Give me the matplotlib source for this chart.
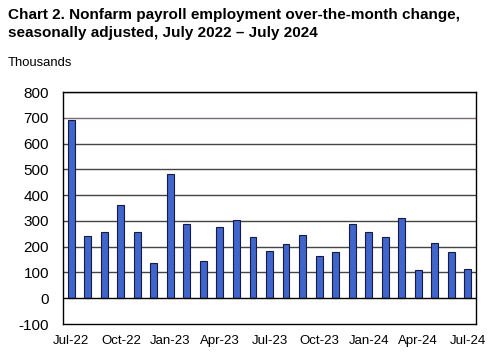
import numpy as np
import matplotlib
matplotlib.use('Agg')
import matplotlib.pyplot as plt

plt.rcParams['font.family'] = ['Liberation Sans', 'DejaVu Sans']

months = ['Jul-22', 'Aug-22', 'Sep-22', 'Oct-22', 'Nov-22', 'Dec-22',
          'Jan-23', 'Feb-23', 'Mar-23', 'Apr-23', 'May-23', 'Jun-23',
          'Jul-23', 'Aug-23', 'Sep-23', 'Oct-23', 'Nov-23', 'Dec-23',
          'Jan-24', 'Feb-24', 'Mar-24', 'Apr-24', 'May-24', 'Jun-24', 'Jul-24']
change = [690, 243, 255, 361, 257, 136,
          483, 286, 145, 278, 303, 239,
          182, 210, 245, 164, 181, 289,
          255, 236, 310, 108, 216, 179, 113]
y_ticks = [-100, 0, 100, 200, 300, 400, 500, 600, 700, 800]

fig = plt.figure(figsize=(4.91, 3.58), dpi=100)
ax = fig.add_axes([63 / 491, 1 - 324 / 358, 413 / 491, 232 / 358])

x = np.arange(len(months))
ax.bar(x, change, width=0.42, color='#3f66cc', edgecolor='#1a1a40',
       linewidth=0.8, zorder=3)

# horizontal gridlines every 100 (the 700 line is a bit lighter/purplish)
for t in y_ticks[2:]:
    ax.axhline(t, color='#7a6a7a' if t == 700 else '#454545',
               linewidth=1.0, zorder=1)
ax.axhline(0, color='black', linewidth=1.0, zorder=4)

ax.set_xlim(-0.5, len(months) - 0.5)
ax.set_ylim(-100, 800)
ax.set_yticks(y_ticks)
ax.set_yticklabels([str(t) for t in y_ticks], fontsize=11)
ax.set_xticks(x[::3])
ax.set_xticklabels(months[::3], fontsize=9.5)
ax.tick_params(axis='y', length=0, pad=10)
ax.tick_params(axis='x', length=0, pad=8)
for s in ax.spines.values():
    s.set_color('black')
    s.set_linewidth(1.0)

fig.text(8 / 491, 1 - 8 / 358,
         'Chart 2. Nonfarm payroll employment over-the-month change,\n'
         'seasonally adjusted, July 2022 \u2013 July 2024',
         fontsize=11, fontweight='bold', va='top', ha='left', linespacing=1.35)
fig.text(8 / 491, 1 - 57 / 358, 'Thousands', fontsize=9.4, va='top', ha='left')

fig.savefig('out.png', dpi=100)
